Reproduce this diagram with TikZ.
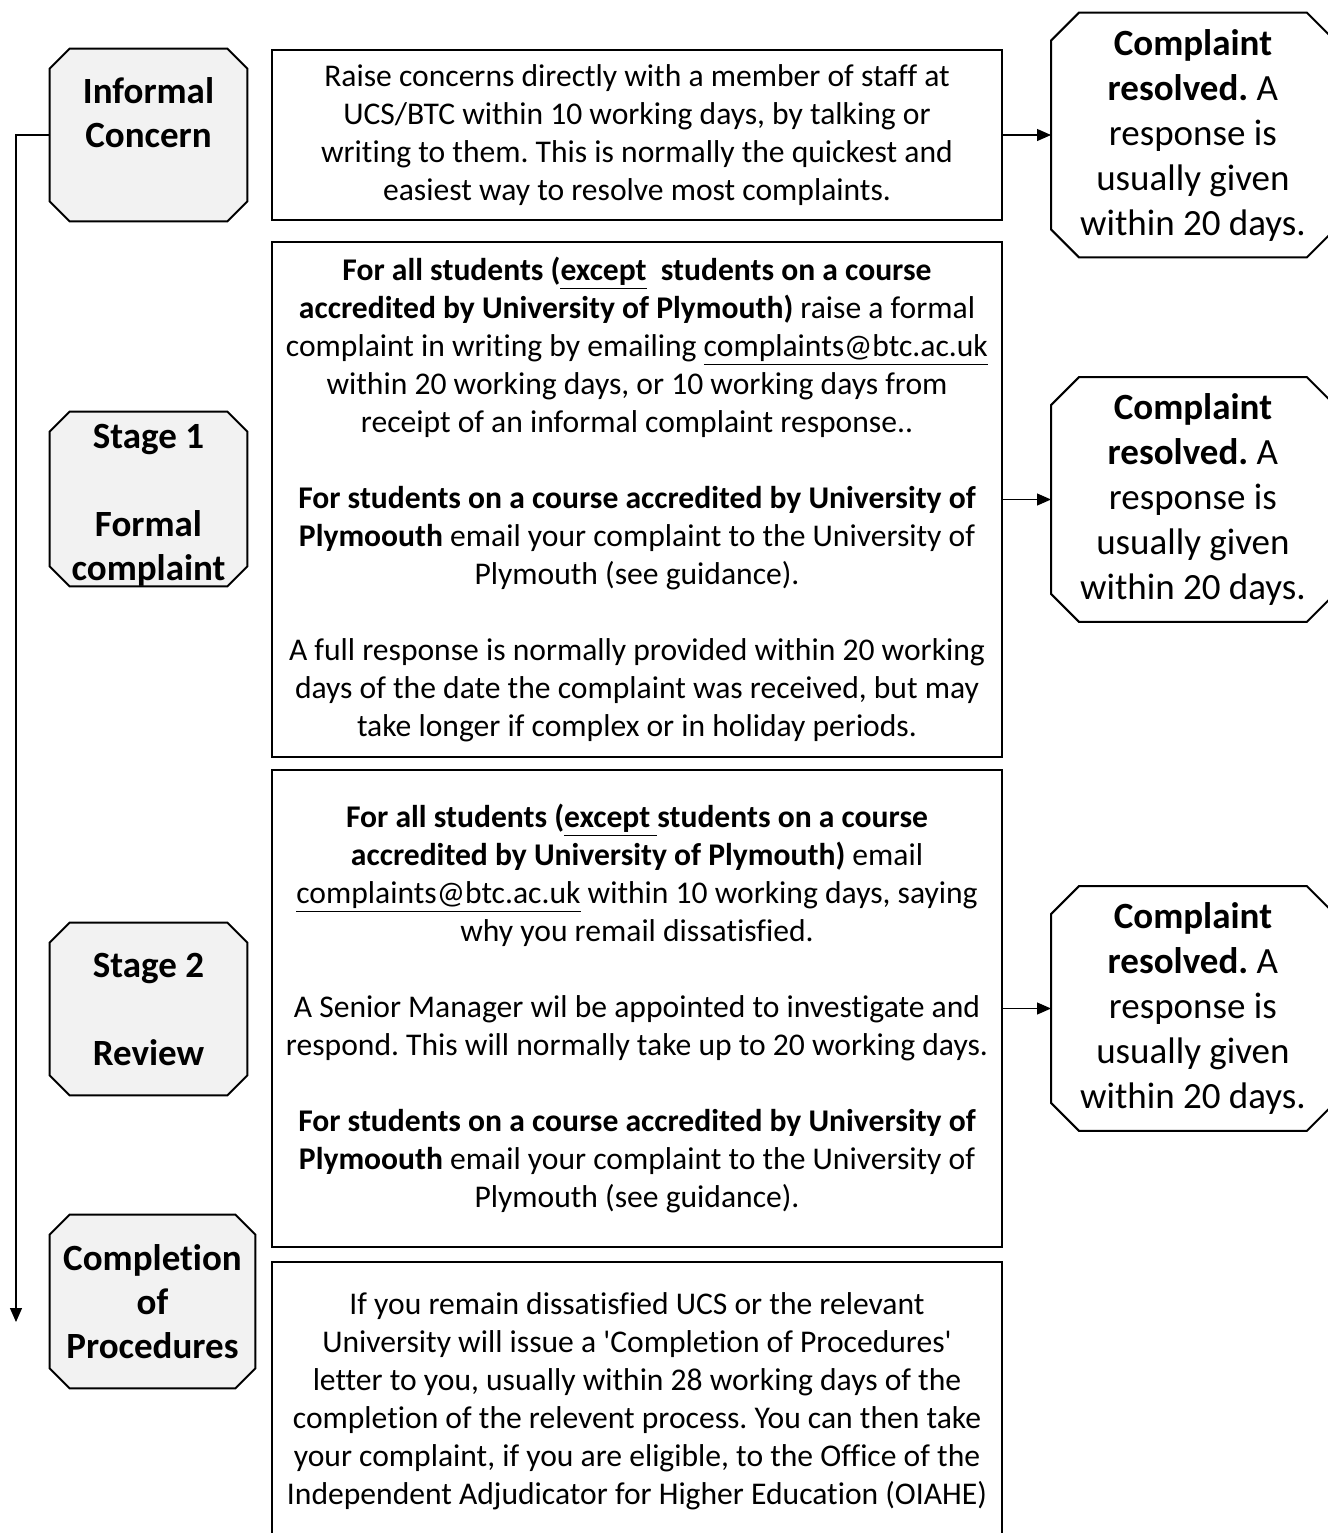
\documentclass[tikz,border=0pt]{standalone}
\usepackage{fontspec}
\setmainfont{Carlito}[Ligatures={TeX,NoCommon}]
\usetikzlibrary{arrows.meta,positioning,backgrounds}
\definecolor{stagegray}{HTML}{F2F2F2}
\frenchspacing

% octagon round a node: style, node, size of the cut corners
\newcommand\cutcorners[3]{%
  \draw[#1] ([xshift=#3]#2.north west) -- ([xshift=-#3]#2.north east) -- ([yshift=-#3]#2.north east)
    -- ([yshift=#3]#2.south east) -- ([xshift=-#3]#2.south east) -- ([xshift=#3]#2.south west)
    -- ([yshift=#3]#2.south west) -- ([yshift=-#3]#2.north west) -- cycle;}

\begin{document}
\begin{tikzpicture}[x=0.5pt,y=-0.5pt,>={Triangle[length=7pt,width=6pt]},
    stagebox/.style={align=center,inner sep=0pt,minimum width=98.5pt,minimum height=86pt,font=\fontsize{18.5}{22}\selectfont\bfseries},
    infobox/.style={draw,line width=1pt,align=center,inner sep=0pt,minimum width=365pt,font=\fontsize{15.8}{19}\selectfont},
    resbox/.style={align=center,inner sep=0pt,minimum width=141.5pt,minimum height=122pt,font=\fontsize{18.5}{22.5}\selectfont},
    stageframe/.style={draw,line width=1pt,fill=stagegray},
    resframe/.style={draw,line width=1pt,fill=white},
    link/.style={->,line width=0.6pt}]
    \useasboundingbox (0,0) rectangle (1328,1533);

    % stages on the left
    \node[stagebox] (informal) at (148.5,135) {Informal\\Concern\\\mbox{}};
    \node[stagebox] (stageone) at (148.5,499) {\rule{0pt}{18pt}Stage 1\\[22pt]Formal\\complaint};
    \node[stagebox] (stagetwo) at (148.5,1009) {Stage 2\\[22pt]Review};
    \node[stagebox,minimum width=102.5pt,minimum height=86.5pt] (completion) at (152.5,1301.5) {Completion\\of\\Procedures};

    % what to do at each stage
    \node[infobox,minimum height=85pt] (infoA) at (637,135) {Raise concerns directly with a member of staff at\\
      UCS/BTC within 10 working days, by talking or\\
      writing to them. This is normally the quickest and\\
      easiest way to resolve most complaints.};
    \node[infobox,minimum height=257.5pt] (infoB) at (637,499.5) {\textbf{For all students (\underline{except}\ \ students on a course}\\
      \textbf{accredited by University of Plymouth)} raise a formal\\
      complaint in writing by emailing \underline{complaints@btc.ac.uk}\\
      within 20 working days, or 10 working days from\\
      receipt of an informal complaint response..\\[19pt]
      \textbf{For students on a course accredited by University of}\\
      \textbf{Plymoouth} email your complaint to the University of\\
      Plymouth (see guidance).\\[19pt]
      A full response is normally provided within 20 working\\
      days of the date the complaint was received, but may\\
      take longer if complex or in holiday periods.};
    \node[infobox,minimum height=238.5pt] (infoC) at (637,1008.5) {\textbf{For all students (\underline{except\ }students on a course}\\
      \textbf{accredited by University of Plymouth)} email\\
      \underline{complaints@btc.ac.uk} within 10 working days, saying\\
      why you remail dissatisfied.\\[19pt]
      A Senior Manager wil be appointed to investigate and\\
      respond. This will normally take up to 20 working days.\\[19pt]
      \textbf{For students on a course accredited by University of}\\
      \textbf{Plymoouth} email your complaint to the University of\\
      Plymouth (see guidance).};
    \node[infobox,minimum height=139pt] (infoD) at (637,1401) {If you remain dissatisfied UCS or the relevant\\
      University will issue a \textquotesingle Completion of Procedures\textquotesingle\\
      letter to you, usually within 28 working days of the\\
      completion of the relevent process. You can then take\\
      your complaint, if you are eligible, to the Office of the\\
      Independent Adjudicator for Higher Education (OIAHE)};

    % outcomes on the right
    \node[resbox,right=24pt of infoA] (resA) {\textbf{Complaint}\\\textbf{resolved.} A\\response is\\usually given\\within 20 days.};
    \node[resbox,right=24pt of infoB] (resB) {\textbf{Complaint}\\\textbf{resolved.} A\\response is\\usually given\\within 20 days.};
    \node[resbox,right=24pt of infoC] (resC) {\textbf{Complaint}\\\textbf{resolved.} A\\response is\\usually given\\within 20 days.};

    \begin{scope}[on background layer]
      \foreach \n in {informal,stageone,stagetwo,completion}
        \cutcorners{stageframe}{\n}{10pt};
      \foreach \n in {resA,resB,resC}
        \cutcorners{resframe}{\n}{14pt};
    \end{scope}

    \coordinate (down) at (16,1322);
    \draw[link] (informal.west) -| (down);
    \draw[link] (infoA) -- (resA);
    \draw[link] (infoB) -- (resB);
    \draw[link] (infoC) -- (resC);
\end{tikzpicture}
\end{document}
